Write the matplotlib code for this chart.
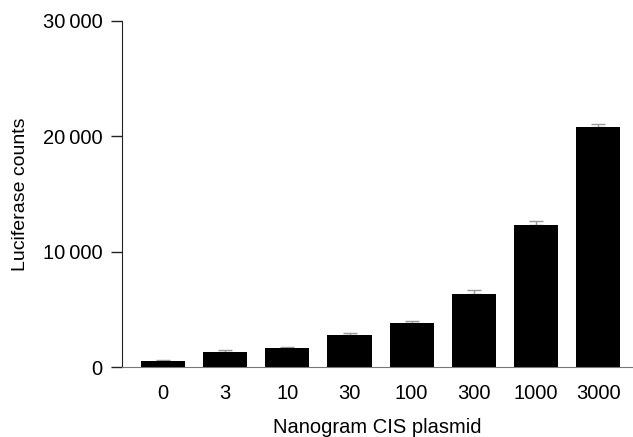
import matplotlib
matplotlib.use("Agg")
import matplotlib.pyplot as plt

# 폰트 설정
plt.rcParams['font.family'] = ['Liberation Sans', 'DejaVu Sans']

# 데이터
doses = ["0", "3", "10", "30", "100", "300", "1000", "3000"]
counts = [520, 1300, 1650, 2750, 3810, 6330, 12300, 20830]
errors = [80, 140, 80, 220, 150, 310, 330, 200]

fig = plt.figure(figsize=(6.33, 4.37), dpi=100)
ax = fig.add_axes([0.1927, 0.160, 0.8073, 0.792])

x = list(range(len(doses)))
ax.bar(x, counts, width=0.71, color="black", zorder=2)
ax.errorbar(x, counts, yerr=[[0] * len(errors), errors], fmt="none",
            ecolor="#999999", elinewidth=1, capsize=5, capthick=1, zorder=1)

ax.set_xlim(-0.66, 7.56)
ax.set_ylim(0, 30000)
ax.set_yticks([0, 10000, 20000, 30000])
ax.set_yticklabels(["0", "10\u2009000", "20\u2009000", "30\u2009000"])
ax.set_xticks(x)
ax.set_xticklabels(doses)

ax.spines["top"].set_visible(False)
ax.spines["right"].set_visible(False)
ax.spines["left"].set_color("#222222")
ax.spines["bottom"].set_color("#777777")
ax.tick_params(axis="y", length=8, width=1, color="#222222", labelsize=14.5, pad=6)
ax.tick_params(axis="x", length=0, labelsize=14.5, pad=12)

ax.set_xlabel("Nanogram CIS plasmid", fontsize=14.5, labelpad=11)
ax.set_ylabel("Luciferase counts", fontsize=14, labelpad=10)

fig.savefig("out.png", dpi=100)
